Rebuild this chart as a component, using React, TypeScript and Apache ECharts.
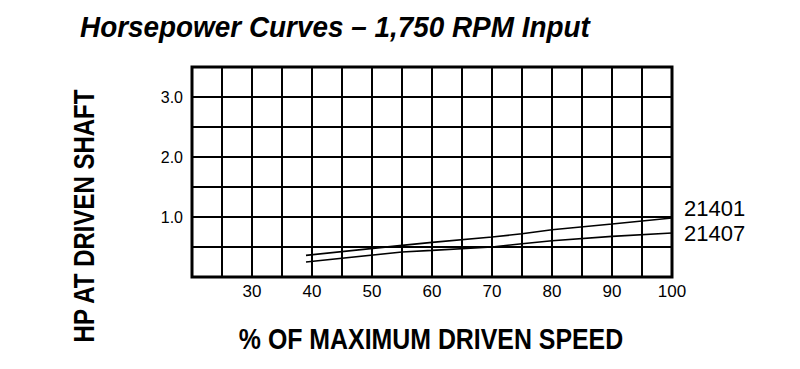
import React, { useEffect, useRef } from "react";
import * as echarts from "echarts";

const speedPoints = [39, 55, 60, 70, 75, 80, 90, 100];
const hp21401 = [0.36, 0.527, 0.577, 0.667, 0.72, 0.788, 0.883, 0.983];
const hp21407 = [0.25, 0.417, 0.443, 0.5, 0.555, 0.605, 0.677, 0.733];
const seriesNames = ["21401", "21407"];
const yTickLabels = ["1.0", "2.0", "3.0"];
const xTickLabels = ["30", "40", "50", "60", "70", "80", "90", "100"];
const titleText = "Horsepower Curves \u2013 1,750 RPM Input";
const xAxisTitle = "% OF MAXIMUM DRIVEN SPEED";
const yAxisTitle = "HP AT DRIVEN SHAFT";

const FONT = "'Liberation Sans', Arial, Helvetica, sans-serif";

export default function App() {
  const ref = useRef<HTMLDivElement>(null);
  useEffect(() => {
    if (!ref.current) return;
    const chart = echarts.init(ref.current, null, { renderer: "svg" });
    const toPairs = (ys: number[]) => speedPoints.map((x, i) => [x, ys[i]]);
    chart.setOption({
      animation: false,
      backgroundColor: "#ffffff",
      graphic: [
        {
          type: "text",
          x: 80,
          y: 27,
          scaleX: 0.93,
          style: {
            text: titleText,
            font: `italic bold 30px ${FONT}`,
            fill: "#000",
            align: "left",
            verticalAlign: "middle",
          },
        },
        {
          type: "text",
          x: 84,
          y: 216,
          rotation: Math.PI / 2,
          scaleX: 0.8,
          style: {
            text: yAxisTitle,
            font: `bold 30px ${FONT}`,
            fill: "#000",
            align: "center",
            verticalAlign: "middle",
          },
        },
        {
          type: "text",
          x: 431,
          y: 339,
          scaleX: 0.83,
          style: {
            text: xAxisTitle,
            font: `bold 30px ${FONT}`,
            fill: "#000",
            align: "center",
            verticalAlign: "middle",
          },
        },
      ],
      grid: {
        left: 192,
        right: 128,
        top: 67,
        bottom: 92,
        show: true,
        borderColor: "#000",
        borderWidth: 3,
        backgroundColor: "transparent",
      },
      xAxis: {
        type: "value",
        min: 20,
        max: 100,
        interval: 5,
        axisLine: { show: false },
        axisTick: { show: false },
        splitLine: { show: true, lineStyle: { color: "#000", width: 2 } },
        axisLabel: {
          margin: 6,
          fontFamily: FONT,
          fontSize: 17,
          color: "#000",
          showMinLabel: true,
          showMaxLabel: true,
          formatter: (v: number) => {
            const s = String(Math.round(v));
            return xTickLabels.includes(s) ? s : "";
          },
        },
      },
      yAxis: {
        type: "value",
        min: 0,
        max: 3.5,
        interval: 0.5,
        axisLine: { show: false },
        axisTick: { show: false },
        splitLine: { show: true, lineStyle: { color: "#000", width: 2 } },
        axisLabel: {
          margin: 9,
          fontFamily: FONT,
          fontSize: 16,
          color: "#000",
          padding: [0, 0, 6, 0],
          formatter: (v: number) => {
            const s = v.toFixed(1);
            return yTickLabels.includes(s) ? s : "";
          },
        },
      },
      series: [
        {
          name: seriesNames[0],
          type: "line",
          data: toPairs(hp21401),
          showSymbol: false,
          lineStyle: { color: "#000", width: 1.6 },
          endLabel: {
            show: true,
            formatter: seriesNames[0],
            fontFamily: FONT,
            fontSize: 22,
            color: "#000",
            distance: 12,
            offset: [0, -10],
          },
          z: 5,
        },
        {
          name: seriesNames[1],
          type: "line",
          data: toPairs(hp21407),
          showSymbol: false,
          lineStyle: { color: "#000", width: 1.6 },
          endLabel: {
            show: true,
            formatter: seriesNames[1],
            fontFamily: FONT,
            fontSize: 22,
            color: "#000",
            distance: 12,
            offset: [0, 0],
          },
          z: 5,
        },
      ],
    });
    return () => chart.dispose();
  }, []);
  return <div ref={ref} style={{ width: 800, height: 369, position: "absolute", left: 0, top: 0 }} />;
}
